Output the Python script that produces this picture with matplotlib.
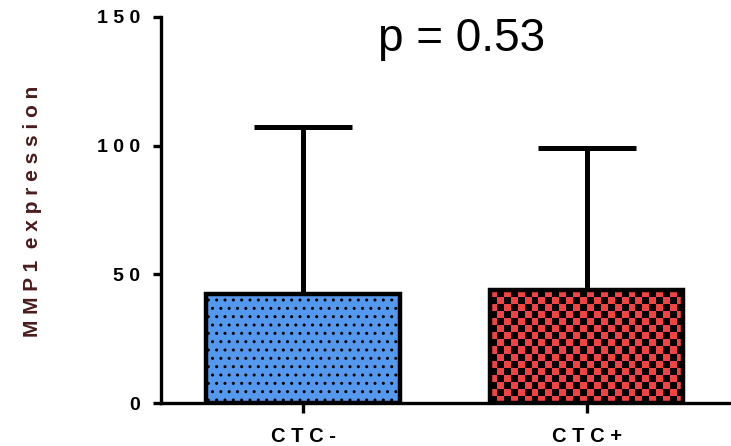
import numpy as np
import matplotlib.pyplot as plt

groups = ["CTC-", "CTC+"]
means = [42.3, 43.8]
sd = [64.8, 55.3]
p_text = "p = 0.53"

plt.rcParams['font.family'] = ['Liberation Sans', 'DejaVu Sans']
plt.rcParams['hatch.linewidth'] = 1.0

def spaced(s, gap=" "):
    return gap.join(list(s))

fig = plt.figure(figsize=(7.31, 4.46), dpi=100)
ax = fig.add_axes([0.2203, 0.0964, 0.7767, 0.8655])

x = np.arange(len(groups))
w = 0.68

# error bars (upward only), behind the bars
ax.errorbar(x, means, yerr=[np.zeros(len(sd)), sd], fmt='none', ecolor='black',
            elinewidth=3.6, capsize=35, capthick=3.6, zorder=0.5)

# filled bars
bars = ax.bar(x, means, width=w, color=['#5599ef', '#f24343'], edgecolor='none', zorder=1)
bars[0].set_hatch('..')
bars[0].set_edgecolor('black')
bars[0].set_linewidth(0)

# checkerboard pattern for second bar
b = bars[1]
bx0, by0 = b.get_x(), b.get_y()
bw, bh = b.get_width(), b.get_height()
ncols = 28
nrows = int(round(bh * 2.573 / 7.0))
chk = (np.add.outer(np.arange(nrows), np.arange(ncols)) % 2).astype(float)
rgba = np.zeros((nrows, ncols, 4))
rgba[..., 3] = chk
im = ax.imshow(rgba, extent=[bx0, bx0 + bw, by0, by0 + nrows * 7.0 / 2.573],
               aspect='auto', interpolation='nearest', zorder=1.5, origin='upper')
im.set_clip_path(b)

# bar outlines
ax.bar(x, means, width=w, fill=False, edgecolor='black', linewidth=3.2, zorder=2)

ax.set_xlim(-0.5, 1.5)
ax.set_ylim(0, 150)
ax.set_yticks([0, 50, 100, 150])
ax.set_yticklabels([spaced(str(v)) for v in [0, 50, 100, 150]], fontsize=14, fontweight='bold')
ax.set_xticks(x)
ax.set_xticklabels([spaced(g) for g in groups], fontsize=14.5, fontweight='bold')

for s in ['top', 'right']:
    ax.spines[s].set_visible(False)
for s in ['left', 'bottom']:
    ax.spines[s].set_linewidth(2.4)
ax.tick_params(axis='y', length=6, width=2.4, pad=9)
ax.tick_params(axis='x', length=7, width=2.4, pad=10)

fig.text(33 / 731, 0.527, spaced("MMP1") + "  " + spaced("expression"), rotation=90,
         ha='center', va='center', fontsize=15, fontweight='bold', color='#4a1c1c')

ax.text(0.56, 141.5, p_text, ha='center', va='center', fontsize=33)

fig.savefig('out.png', dpi=100)
